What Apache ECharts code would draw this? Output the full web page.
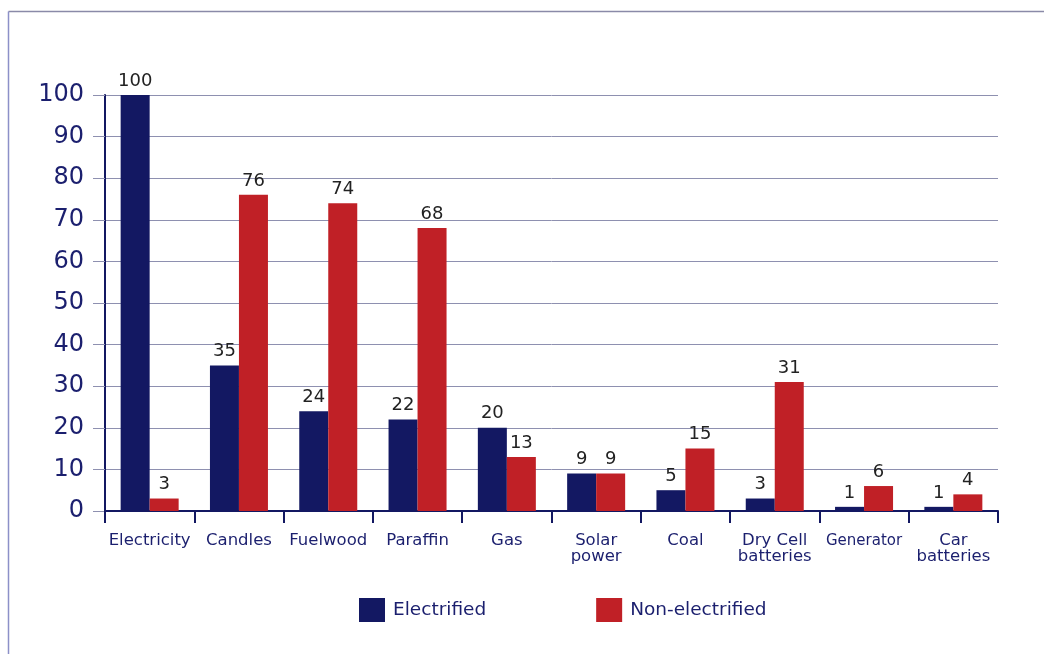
<!DOCTYPE html>
<html><head><meta charset="utf-8">
<script src="https://cdn.jsdelivr.net/npm/echarts@6/dist/echarts.min.js"></script>
<style>html,body{margin:0;padding:0;background:#fff}#c{width:1044px;height:654px}</style>
</head><body><div id="c"></div>
<script>
const categories = ['Electricity','Candles','Fuelwood','Paraffin','Gas','Solar\npower','Coal','Dry Cell\nbatteries','Generator','Car\nbatteries'];
const electrified = [100,35,24,22,20,9,5,3,1,1];
const nonElectrified = [3,76,74,68,13,9,15,31,6,4];
const yTicks = [0,10,20,30,40,50,60,70,80,90,100];

const NAVY = '#131862', RED = '#c02026', GRID = '#8e90b0', TXT = '#1b1f6e';
const FONT = 'DejaVu Sans';
const chart = echarts.init(document.getElementById('c'));
chart.setOption({
  animation:false,
  textStyle:{fontFamily:FONT},
  graphic:[
    {type:'line',shape:{x1:8.5,y1:11.5,x2:1044,y2:11.5},style:{stroke:'#8a8aa8',lineWidth:1.5}},
    {type:'line',shape:{x1:8.5,y1:11.5,x2:8.5,y2:654},style:{stroke:'#8c90c8',lineWidth:1.5}}
  ],
  grid:{left:105,right:46,top:95,bottom:143},
  legend:{
    top:593,left:354,itemWidth:26,itemHeight:24,itemGap:110,
    icon:'rect',
    textStyle:{fontSize:18.5,color:TXT,fontFamily:FONT,padding:[0,0,0,3]},
    data:['Electrified','Non-electrified']
  },
  xAxis:{
    type:'category',data:categories,
    axisLine:{lineStyle:{color:NAVY,width:2}},
    axisTick:{show:true,length:12,lineStyle:{color:NAVY,width:2}},
    axisLabel:{fontSize:16.5,color:TXT,margin:22,lineHeight:16,verticalAlign:'top',interval:0,
      formatter:v=>v==='Generator'?'{s|'+v+'}':v,
      rich:{s:{fontSize:15,color:TXT,fontFamily:FONT,lineHeight:16}}}
  },
  yAxis:{
    type:'value',min:0,max:100,interval:10,
    axisLine:{show:true,lineStyle:{color:NAVY,width:2}},
    axisTick:{show:true,length:12,lineStyle:{color:GRID,width:1}},
    splitLine:{lineStyle:{color:GRID,width:1}},
    axisLabel:{fontSize:24,color:TXT,margin:21,formatter:v=>yTicks.includes(v)?String(v):''}
  },
  series:[
    {name:'Electrified',type:'bar',data:electrified,barWidth:29,barGap:'0%',
     itemStyle:{color:NAVY},
     label:{show:true,position:'top',fontSize:18,color:'#222',distance:5}},
    {name:'Non-electrified',type:'bar',data:nonElectrified,barWidth:29,
     itemStyle:{color:RED},
     label:{show:true,position:'top',fontSize:18,color:'#222',distance:5}}
  ]
});
</script></body></html>
